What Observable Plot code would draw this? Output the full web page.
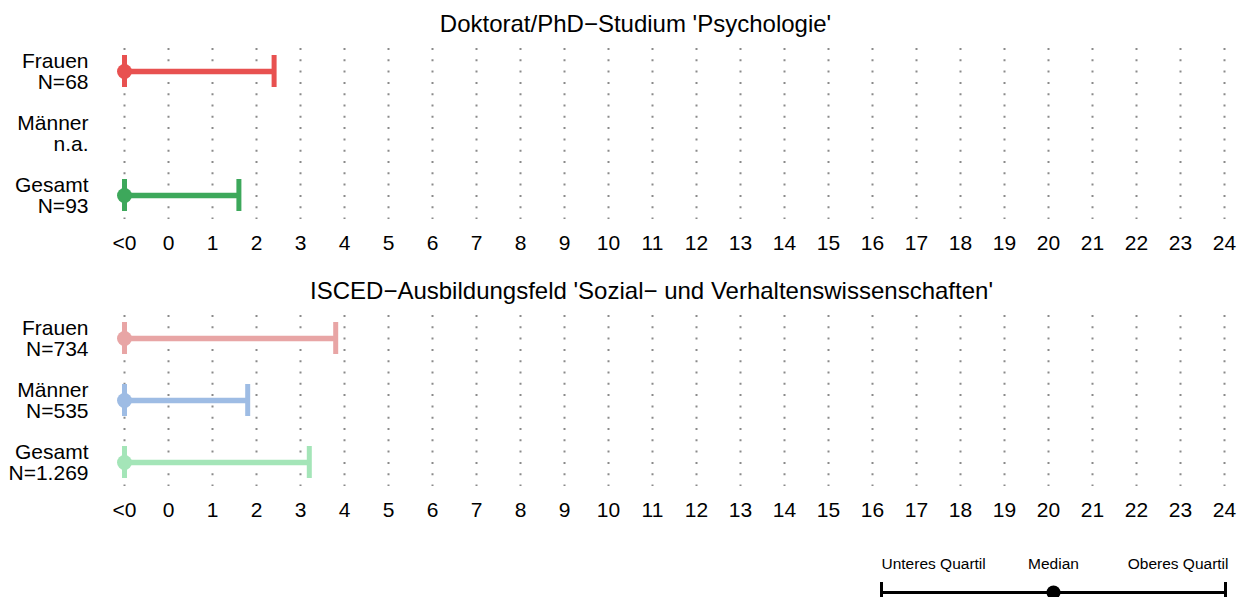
<!DOCTYPE html>
<html>
<head>
<meta charset="utf-8">
<script src="https://cdn.jsdelivr.net/npm/d3@7"></script>
<script src="https://cdn.jsdelivr.net/npm/@observablehq/plot@0.6"></script>
<style>
  html, body { margin: 0; padding: 0; background: #fff; }
  #wrap { position: relative; width: 1240px; height: 597px; overflow: hidden; background: #fff; }
  #wrap > svg, #wrap > figure { position: absolute; left: 0; margin: 0; }
</style>
</head>
<body>
<div id="wrap"></div>
<script>
// ---- data ----
const groups = ["Frauen", "Männer", "Gesamt"];

const panel1Title = "Doktorat/PhD\u2212Studium 'Psychologie'";
const panel1N = ["N=68", "n.a.", "N=93"];
const panel1Lower = [-1, null, -1];
const panel1Median = [-1, null, -1];
const panel1Upper = [2.4, null, 1.6];

const panel2Title = "ISCED\u2212Ausbildungsfeld 'Sozial\u2212 und Verhaltenswissenschaften'";
const panel2N = ["N=734", "N=535", "N=1.269"];
const panel2Lower = [-1, -1, -1];
const panel2Median = [-1, -1, -1];
const panel2Upper = [3.8, 1.8, 3.2];

const xTicks = [-1, 0, 1, 2, 3, 4, 5, 6, 7, 8, 9, 10, 11, 12, 13, 14, 15, 16, 17, 18, 19, 20, 21, 22, 23, 24];
const xTickLabels = ["<0", "0", "1", "2", "3", "4", "5", "6", "7", "8", "9", "10", "11", "12",
  "13", "14", "15", "16", "17", "18", "19", "20", "21", "22", "23", "24"];

const legendItems = ["Unteres Quartil", "Median", "Oberes Quartil"];

// ---- styles ----
const panel1Colors = ["#E85150", "#8FB0DD", "#3DA85B"];
const panel2Colors = ["#E8A5A5", "#9EBCE4", "#A4E5B8"];
const font = "'Liberation Sans', Arial, Helvetica, sans-serif";

const wrap = document.getElementById("wrap");

function panel(title, titleDx, nLabels, lower, median, upper, colors, top) {
  const rows = groups.map((g, i) => ({
    group: g,
    label: g + "\n" + nLabels[i],
    lower: lower[i], median: median[i], upper: upper[i]
  }));
  const valid = rows.filter(d => d.upper != null);
  const chart = Plot.plot({
    width: 1240,
    height: 268,
    marginLeft: 124,
    marginRight: 16,
    marginTop: 48,
    marginBottom: 49,
    style: { fontFamily: font, fontSize: "21px", color: "#000", background: "transparent" },
    x: { domain: [-1, 24], axis: null },
    y: { type: "band", domain: groups, range: [38.75, 226.25], paddingInner: 0.488, paddingOuter: 0.244, axis: null },
    color: { domain: groups, range: colors },
    marks: [
      Plot.ruleX(xTicks, { x: d => d, stroke: "#8a8a8a", strokeWidth: 2, strokeDasharray: "2,9.3" }),
      Plot.axisX(xTicks, { tickSize: 0, tickPadding: 16, fontSize: 21,
        tickFormat: d => xTickLabels[xTicks.indexOf(d)] }),
      Plot.text(rows, { y: "group", text: "label", frameAnchor: "left", dx: -36,
        textAnchor: "end", lineHeight: 1.03, fontSize: 21 }),
      Plot.text([title], { text: d => d, frameAnchor: "top", lineAnchor: "middle",
        dx: titleDx, dy: -24, fontSize: 24 }),
      Plot.ruleY(valid, { y: "group", x1: "lower", x2: "upper", stroke: "group", strokeWidth: 5.5 }),
      Plot.tickX(valid, { x: "lower", y: "group", stroke: "group", strokeWidth: 5 }),
      Plot.tickX(valid, { x: "upper", y: "group", stroke: "group", strokeWidth: 5 }),
      Plot.dot(valid, { x: "median", y: "group", fill: "group", r: 7.5 })
    ]
  });
  chart.style.top = top + "px";
  wrap.appendChild(chart);
}

panel(panel1Title, -39, panel1N, panel1Lower, panel1Median, panel1Upper, panel1Colors, 0);
panel(panel2Title, -23, panel2N, panel2Lower, panel2Median, panel2Upper, panel2Colors, 267);

// ---- legend ----
const legendKey = ["Legende"];
const legend = Plot.plot({
  width: 1240,
  height: 57,
  marginTop: 46,
  marginBottom: 0,
  marginLeft: 0,
  marginRight: 0,
  style: { fontFamily: font, fontSize: "15.5px", color: "#000", background: "transparent", overflow: "visible" },
  x: { type: "point", domain: legendItems, range: [880, 1225], padding: 0, axis: null },
  y: { type: "band", domain: legendKey, range: [41.5, 61.5], padding: 0, axis: null },
  marks: [
    Plot.ruleY(legendKey, { y: d => d, x1: () => legendItems[0], x2: () => legendItems[2], stroke: "#000", strokeWidth: 3 }),
    Plot.tickX([legendItems[0], legendItems[2]], { x: d => d, y: () => legendKey[0], stroke: "#000", strokeWidth: 3 }),
    Plot.dot([legendItems[1]], { x: d => d, y: () => legendKey[0], fill: "#000", r: 7 }),
    Plot.text([legendItems[0]], { x: d => d, y: () => legendKey[0], text: d => d, textAnchor: "start", dy: -28.5, fontSize: 15.5 }),
    Plot.text([legendItems[1]], { x: d => d, y: () => legendKey[0], text: d => d, textAnchor: "middle", dy: -28.5, fontSize: 15.5 }),
    Plot.text([legendItems[2]], { x: d => d, y: () => legendKey[0], text: d => d, textAnchor: "end", dy: -28.5, dx: 3, fontSize: 15.5 })
  ]
});
legend.style.top = "540px";
wrap.appendChild(legend);
</script>
</body>
</html>
